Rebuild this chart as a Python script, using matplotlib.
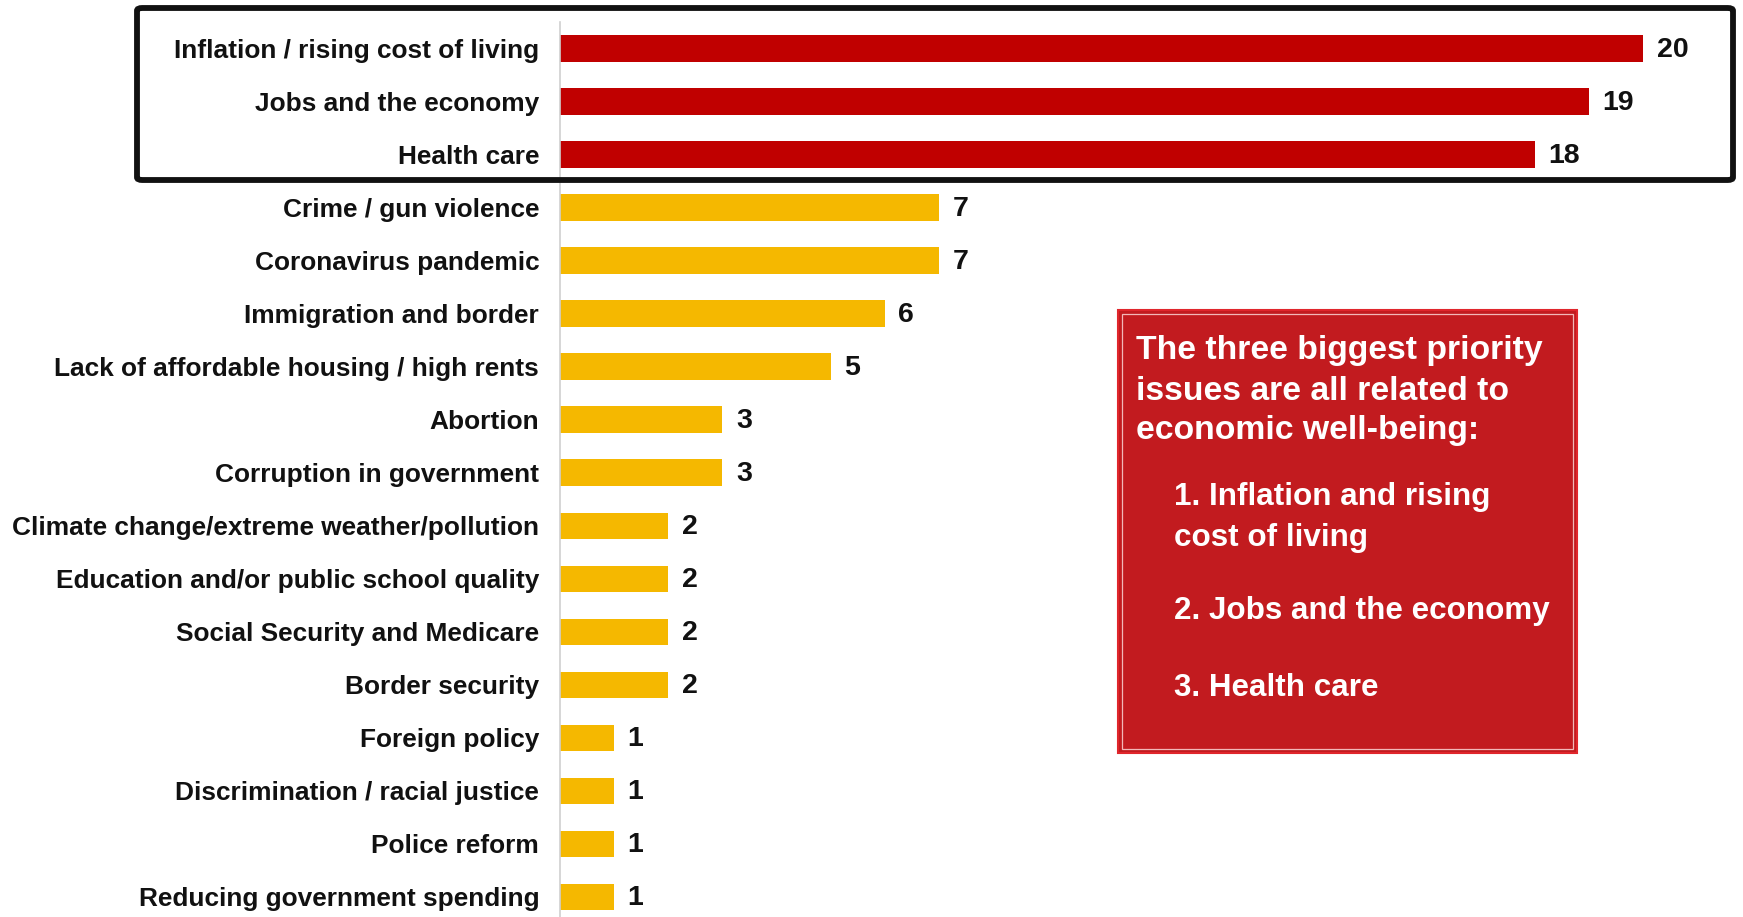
import matplotlib
matplotlib.use("Agg")
import matplotlib.pyplot as plt
from matplotlib.patches import Rectangle, FancyBboxPatch

categories = [
    "Inflation / rising cost of living",
    "Jobs and the economy",
    "Health care",
    "Crime / gun violence",
    "Coronavirus pandemic",
    "Immigration and border",
    "Lack of affordable housing / high rents",
    "Abortion",
    "Corruption in government",
    "Climate change/extreme weather/pollution",
    "Education and/or public school quality",
    "Social Security and Medicare",
    "Border security",
    "Foreign policy",
    "Discrimination / racial justice",
    "Police reform",
    "Reducing government spending",
]
values = [20, 19, 18, 7, 7, 6, 5, 3, 3, 2, 2, 2, 2, 1, 1, 1, 1]
top_n = 3

header_lines = ["The three biggest priority", "issues are all related to", "economic well-being:"]
list_lines = ["1. Inflation and rising", "cost of living", "2. Jobs and the economy", "3. Health care"]

plt.rcParams['font.family'] = ['Liberation Sans', 'DejaVu Sans']

W, H = 1743, 917
fig = plt.figure(figsize=(W / 100, H / 100), dpi=100)

ax_left = 560 / W
px_per_unit = 54.15
xmax = 21.5
ax_w = xmax * px_per_unit / W
top_px = 22
bottom_px = 923.5
ax = fig.add_axes([ax_left, 1 - bottom_px / H, ax_w, (bottom_px - top_px) / H])

colors = ['#C00000' if i < top_n else '#F5B800' for i in range(len(values))]
y = list(range(len(values)))
ax.barh(y, values, height=0.5, color=colors)
ax.set_xlim(0, xmax)
ax.set_ylim(len(values) - 0.5, -0.5)
ax.set_yticks(y)
ax.set_yticklabels(categories, fontsize=18.9, fontweight='bold', color='#111111')
ax.tick_params(axis='y', length=0, pad=15)
ax.set_xticks([])
for s in ['top', 'right', 'bottom']:
    ax.spines[s].set_visible(False)
ax.spines['left'].set_color('#D0D0D0')
ax.spines['left'].set_linewidth(1.2)

for yi, v in zip(y, values):
    ax.text(v + 0.25, yi + 0.02, str(v), va='center', ha='left', fontsize=20.5,
            fontweight='bold', color='#111111')

def fx(px):
    return px / W

def fy(py):
    return 1 - py / H

box = FancyBboxPatch((fx(137), fy(180)), fx(1733) - fx(137), fy(8) - fy(180),
                     boxstyle="round,pad=0,rounding_size=0.003",
                     transform=fig.transFigure, fill=False,
                     edgecolor='#111111', linewidth=4.2, zorder=5)
fig.patches.append(box)

outer = Rectangle((fx(1118), fy(753)), fx(1577) - fx(1118), fy(310) - fy(753),
                  transform=fig.transFigure, facecolor='#C21B1F',
                  edgecolor='#E0262C', linewidth=1.5, zorder=5)
fig.patches.append(outer)
inner = Rectangle((fx(1122), fy(749)), fx(1573) - fx(1122), fy(314) - fy(749),
                  transform=fig.transFigure, facecolor='none',
                  edgecolor='#F2B8B8', linewidth=0.9, zorder=6)
fig.patches.append(inner)

header_y = [350, 392, 431]
for line, py in zip(header_lines, header_y):
    fig.text(fx(1136), fy(py), line, ha='left', va='center', fontsize=24.3,
             fontweight='bold', color='white', zorder=7)
list_y = [497, 538, 611, 688]
for line, py in zip(list_lines, list_y):
    fig.text(fx(1174), fy(py), line, ha='left', va='center', fontsize=22.6,
             fontweight='bold', color='white', zorder=7)

fig.savefig("out.png", dpi=100)
